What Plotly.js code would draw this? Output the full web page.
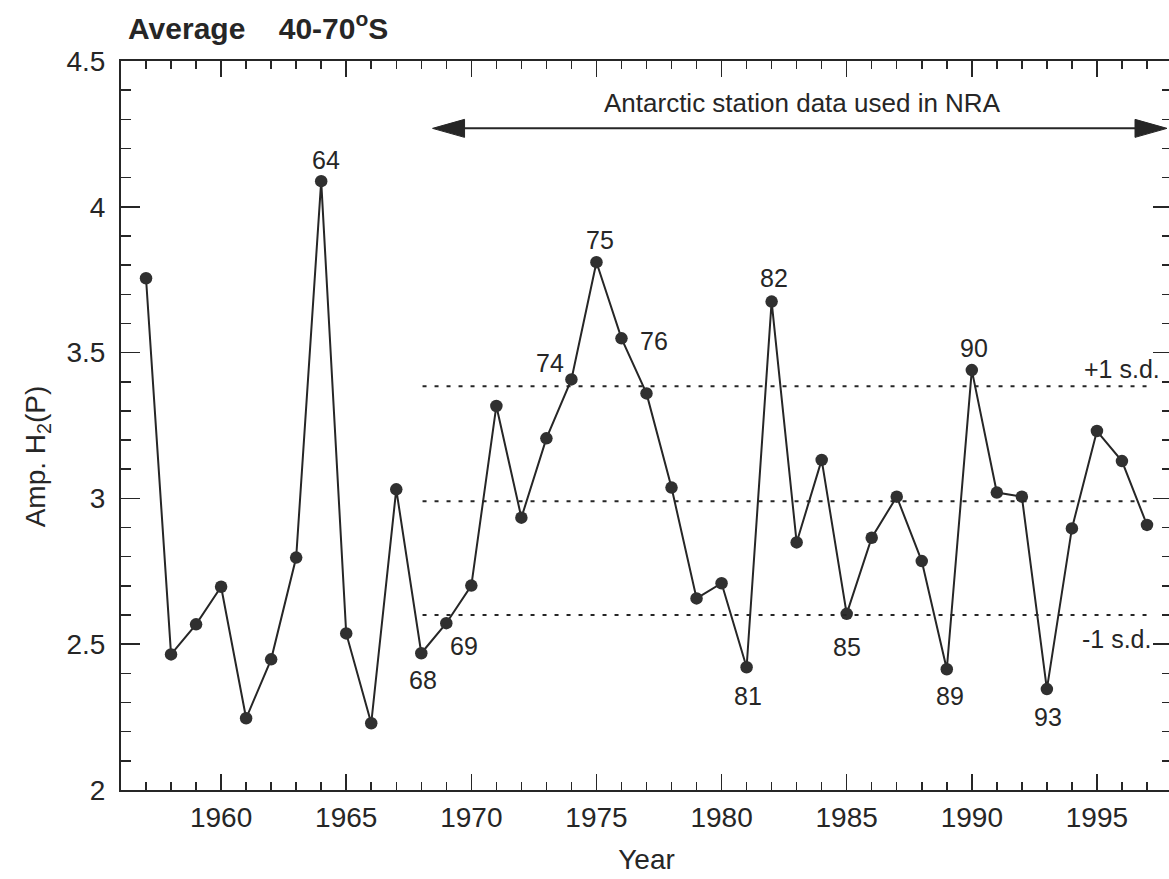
<!DOCTYPE html>
<html>
<head>
<meta charset="utf-8">
<script src="https://cdn.plot.ly/plotly-3.0.1.min.js"></script>
<style>
html,body{margin:0;padding:0;overflow:hidden;background:#fff;}
#chart{width:1175px;height:879px;}
</style>
</head>
<body>
<div id="chart"></div>
<script>
// ---- data ----
const years = [1957,1958,1959,1960,1961,1962,1963,1964,1965,1966,1967,1968,1969,1970,1971,1972,1973,1974,1975,1976,1977,1978,1979,1980,1981,1982,1983,1984,1985,1986,1987,1988,1989,1990,1991,1992,1993,1994,1995,1996,1997];
const amplitude = [3.755,2.465,2.568,2.697,2.246,2.448,2.797,4.088,2.537,2.229,3.031,2.469,2.572,2.701,3.317,2.934,3.206,3.408,3.81,3.549,3.36,3.037,2.657,2.709,2.421,3.675,2.849,3.132,2.604,2.865,3.006,2.785,2.414,3.44,3.02,3.006,2.346,2.897,3.231,3.128,2.909];
const labelledYears = [1964,1968,1969,1974,1975,1976,1981,1982,1985,1989,1990,1993];
const labelTexts = ['64','68','69','74','75','76','81','82','85','89','90','93'];
const sdStartYear = 1968.05, sdEndYear = 1997.05;
const meanValue = 2.99, plusSD = 3.385, minusSD = 2.60;
const nraStart = 1968.45, nraEnd = 1997.8;
const xTickVals = [1960,1965,1970,1975,1980,1985,1990,1995];

// label offsets (pixels)
const labelShift = {
  '64':[5,21],'68':[2,-27],'69':[18,-23],'74':[-21,16],'75':[4,22],'76':[33,-3],
  '81':[1,-29],'82':[2,24],'85':[0,-33],'89':[3,-27],'90':[2,22],'93':[1,-28]
};

const FONT = 'Liberation Sans, Arial, Helvetica, sans-serif';
const INK = '#262626';

const trace = {
  x: years, y: amplitude, type: 'scatter', mode: 'lines+markers',
  line: {color: INK, width: 2},
  marker: {color: '#303030', size: 12.5},
  hoverinfo: 'x+y', showlegend: false
};

const annotations = labelledYears.map((yr, i) => {
  const t = labelTexts[i];
  return {
    x: yr, y: amplitude[years.indexOf(yr)], xref: 'x', yref: 'y',
    text: t, showarrow: false, xshift: labelShift[t][0], yshift: labelShift[t][1],
    font: {family: FONT, size: 25, color: INK}
  };
});
annotations.push({
  x: 1983.25, y: 4.356, xref: 'x', yref: 'y', showarrow: false,
  text: 'Antarctic station data used in NRA', font: {family: FONT, size: 26, color: INK}
});
annotations.push({
  x: 1997.6, y: plusSD, xref: 'x', yref: 'y', xanchor: 'right', yshift: 17, showarrow: false,
  text: '+1 s.d.', font: {family: FONT, size: 25, color: INK}
});
annotations.push({
  x: 1997.25, y: minusSD, xref: 'x', yref: 'y', xanchor: 'right', yshift: -24, showarrow: false,
  text: '-1 s.d.', font: {family: FONT, size: 25, color: INK}
});
annotations.push({
  x: -0.098, y: 0.457, xref: 'paper', yref: 'paper', textangle: -90, showarrow: false,
  text: 'Amp. H<sub>2</sub>(P)', font: {family: FONT, size: 28, color: INK}
});

const dotted = {color: INK, width: 2, dash: '4px,8px'};
const shapes = [
  {type: 'line', xref: 'x', yref: 'y', x0: sdStartYear, x1: sdEndYear, y0: plusSD, y1: plusSD, line: dotted},
  {type: 'line', xref: 'x', yref: 'y', x0: sdStartYear, x1: sdEndYear, y0: meanValue, y1: meanValue, line: dotted},
  {type: 'line', xref: 'x', yref: 'y', x0: sdStartYear, x1: sdEndYear, y0: minusSD, y1: minusSD, line: dotted},
  {type: 'line', xref: 'x', yref: 'y', x0: nraStart + 1, x1: nraEnd - 1, y0: 4.269, y1: 4.269, line: {color: INK, width: 2}},
  {type: 'path', xref: 'x', yref: 'y', xsizemode: 'pixel', ysizemode: 'pixel', xanchor: nraStart, yanchor: 4.269,
   path: 'M0,0 L32,9 L32,-9 Z', fillcolor: INK, line: {color: INK, width: 1}},
  {type: 'path', xref: 'x', yref: 'y', xsizemode: 'pixel', ysizemode: 'pixel', xanchor: nraEnd, yanchor: 4.269,
   path: 'M0,0 L-32,9 L-32,-9 Z', fillcolor: INK, line: {color: INK, width: 1}}
];

const layout = {
  width: 1175, height: 879,
  margin: {l: 121, r: 3, t: 61, b: 89},
  paper_bgcolor: '#ffffff', plot_bgcolor: '#ffffff',
  font: {family: FONT, color: INK},
  title: {
    text: '<b>Average&nbsp;&nbsp;&nbsp;&nbsp;40-70<sup>o</sup>S</b>',
    x: 0.109, xanchor: 'left', xref: 'container',
    y: 0.968, yanchor: 'middle', yref: 'container',
    font: {family: FONT, size: 30, color: INK}
  },
  xaxis: {
    range: [1956, 1998], tickvals: xTickVals, ticks: 'inside', ticklen: 16, tickwidth: 1.5, tickcolor: INK,
    showline: true, linecolor: INK, linewidth: 2, mirror: 'ticks', showgrid: false, zeroline: false,
    tickfont: {family: FONT, size: 28, color: INK}, ticklabelstandoff: 1,
    minor: {dtick: 1, tick0: 1956, ticks: 'inside', ticklen: 8, tickwidth: 1.5, tickcolor: INK, showgrid: false},
    title: {text: 'Year', font: {family: FONT, size: 28, color: INK}, standoff: 18}
  },
  yaxis: {
    range: [2, 4.5], dtick: 0.5, tick0: 2, ticks: 'inside', ticklen: 19, tickwidth: 1.5, tickcolor: INK,
    showline: true, linecolor: INK, linewidth: 2, mirror: 'ticks', showgrid: false, zeroline: false,
    tickfont: {family: FONT, size: 28, color: INK}, ticklabelstandoff: 8,
    minor: {dtick: 0.1, tick0: 2, ticks: 'inside', ticklen: 10, tickwidth: 1.5, tickcolor: INK, showgrid: false}
  },
  annotations: annotations,
  shapes: shapes
};

Plotly.newPlot('chart', [trace], layout, {displayModeBar: false, staticPlot: true});
</script>
</body>
</html>
